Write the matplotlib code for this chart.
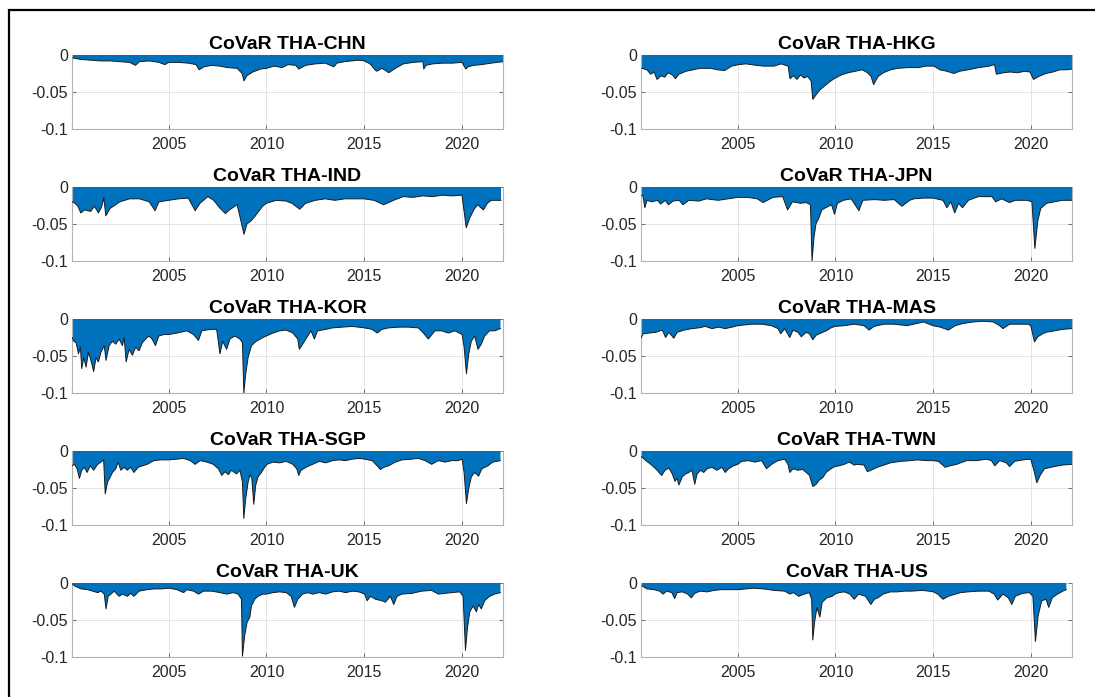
import matplotlib
matplotlib.use('Agg')
import matplotlib.pyplot as plt
from matplotlib.patches import Rectangle

plt.rcParams['font.family'] = ['Liberation Sans', 'DejaVu Sans']
plt.rcParams['axes.unicode_minus'] = False

# CoVaR series, (year, value)
chn = [(2000.1, -0.004), (2000.5, -0.006), (2001.0, -0.007), (2001.5, -0.008), (2002.0, -0.008),
       (2002.5, -0.009), (2003.0, -0.010), (2003.3, -0.014), (2003.5, -0.009), (2004.0, -0.008),
       (2004.5, -0.010), (2004.8, -0.013), (2005.0, -0.010), (2005.5, -0.010), (2006.0, -0.011),
       (2006.4, -0.013), (2006.55, -0.020), (2006.8, -0.016), (2007.2, -0.014), (2007.6, -0.015),
       (2008.0, -0.017), (2008.5, -0.018), (2008.75, -0.025), (2008.85, -0.035), (2009.0, -0.028),
       (2009.3, -0.023), (2009.7, -0.019), (2010.0, -0.018), (2010.4, -0.015), (2010.8, -0.017),
       (2011.1, -0.013), (2011.5, -0.014), (2011.65, -0.019), (2012.0, -0.014), (2012.5, -0.012),
       (2013.0, -0.011), (2013.45, -0.016), (2013.6, -0.011), (2014.0, -0.009), (2014.7, -0.007),
       (2015.0, -0.008), (2015.3, -0.012), (2015.55, -0.020), (2015.65, -0.022), (2015.9, -0.018),
       (2016.1, -0.021), (2016.25, -0.024), (2016.6, -0.018), (2017.0, -0.012), (2017.5, -0.010),
       (2018.0, -0.009), (2018.05, -0.019), (2018.15, -0.014), (2018.5, -0.012), (2019.0, -0.011),
       (2019.5, -0.011), (2020.0, -0.010), (2020.2, -0.019), (2020.3, -0.016), (2020.6, -0.014),
       (2021.0, -0.013), (2021.5, -0.011), (2022.1, -0.009)]

hkg = [(2000.09, -0.018), (2000.36, -0.020), (2000.54, -0.026), (2000.72, -0.023), (2000.87, -0.033),
       (2001.08, -0.028), (2001.26, -0.030), (2001.44, -0.024), (2001.66, -0.027), (2001.81, -0.032),
       (2001.99, -0.026), (2002.35, -0.022), (2002.71, -0.020), (2003.07, -0.018), (2003.61, -0.018),
       (2003.97, -0.020), (2004.33, -0.021), (2004.69, -0.015), (2005.05, -0.013), (2005.42, -0.012),
       (2005.96, -0.014), (2006.32, -0.015), (2006.86, -0.015), (2007.22, -0.012), (2007.58, -0.015),
       (2007.67, -0.032), (2007.85, -0.028), (2008.03, -0.033), (2008.21, -0.027), (2008.39, -0.031),
       (2008.57, -0.029), (2008.75, -0.035), (2008.84, -0.060), (2009.03, -0.053), (2009.21, -0.047),
       (2009.39, -0.043), (2009.66, -0.037), (2009.93, -0.032), (2010.29, -0.027), (2010.65, -0.024),
       (2011.01, -0.022), (2011.37, -0.020), (2011.64, -0.024), (2011.82, -0.029), (2011.95, -0.040),
       (2012.18, -0.029), (2012.45, -0.024), (2012.82, -0.020), (2013.18, -0.018), (2013.72, -0.017),
       (2014.26, -0.017), (2014.62, -0.015), (2015.04, -0.015), (2015.34, -0.020), (2015.70, -0.022),
       (2016.06, -0.025), (2016.34, -0.022), (2016.79, -0.020), (2017.33, -0.017), (2017.87, -0.015),
       (2018.14, -0.013), (2018.23, -0.026), (2018.59, -0.024), (2018.95, -0.023), (2019.31, -0.024),
       (2019.68, -0.022), (2019.95, -0.023), (2020.13, -0.033), (2020.40, -0.029), (2020.76, -0.025),
       (2021.12, -0.023), (2021.48, -0.020), (2021.84, -0.020), (2022.11, -0.019)]

ind = [(2000.06, -0.020), (2000.2, -0.022), (2000.35, -0.026), (2000.5, -0.035), (2000.7, -0.031),
       (2001.0, -0.033), (2001.2, -0.026), (2001.4, -0.035), (2001.55, -0.028), (2001.68, -0.015),
       (2001.78, -0.039), (2002.0, -0.029), (2002.5, -0.020), (2003.0, -0.016), (2003.5, -0.016),
       (2004.0, -0.020), (2004.3, -0.032), (2004.5, -0.020), (2005.0, -0.018), (2005.5, -0.016),
       (2006.0, -0.015), (2006.35, -0.032), (2006.6, -0.022), (2007.0, -0.013), (2007.3, -0.018),
       (2007.6, -0.028), (2007.9, -0.036), (2008.1, -0.031), (2008.5, -0.024), (2008.85, -0.064),
       (2009.0, -0.050), (2009.2, -0.046), (2009.4, -0.040), (2009.6, -0.033), (2009.8, -0.026),
       (2010.0, -0.022), (2010.5, -0.018), (2011.0, -0.019), (2011.3, -0.022), (2011.7, -0.030),
       (2012.0, -0.022), (2012.5, -0.018), (2013.0, -0.016), (2013.5, -0.018), (2014.0, -0.016),
       (2014.5, -0.016), (2015.0, -0.016), (2015.5, -0.018), (2016.0, -0.024), (2016.5, -0.018),
       (2017.0, -0.013), (2017.5, -0.014), (2018.0, -0.012), (2018.5, -0.013), (2019.0, -0.011),
       (2019.5, -0.012), (2020.0, -0.011), (2020.22, -0.055), (2020.4, -0.042), (2020.6, -0.031),
       (2020.8, -0.024), (2021.1, -0.031), (2021.3, -0.022), (2021.5, -0.018), (2022.0, -0.018)]

jpn = [(2000.04, -0.011), (2000.15, -0.012), (2000.25, -0.028), (2000.35, -0.018), (2000.6, -0.020),
       (2000.9, -0.018), (2001.05, -0.023), (2001.3, -0.018), (2001.45, -0.024), (2001.7, -0.019),
       (2002.0, -0.018), (2002.2, -0.024), (2002.5, -0.018), (2003.0, -0.019), (2003.4, -0.016),
       (2004.0, -0.018), (2004.5, -0.016), (2005.0, -0.014), (2005.5, -0.014), (2006.0, -0.016),
       (2006.3, -0.021), (2006.8, -0.014), (2007.3, -0.013), (2007.55, -0.031), (2007.8, -0.020),
       (2008.2, -0.022), (2008.5, -0.021), (2008.72, -0.024), (2008.8, -0.100), (2008.9, -0.068),
       (2009.0, -0.050), (2009.15, -0.042), (2009.3, -0.031), (2009.5, -0.028), (2009.8, -0.024),
       (2009.95, -0.037), (2010.1, -0.022), (2010.4, -0.018), (2010.8, -0.016), (2011.2, -0.032),
       (2011.4, -0.018), (2012.0, -0.017), (2012.5, -0.018), (2013.0, -0.017), (2013.4, -0.026),
       (2013.8, -0.018), (2014.0, -0.016), (2014.5, -0.015), (2015.0, -0.015), (2015.5, -0.018),
       (2015.7, -0.028), (2015.9, -0.020), (2016.1, -0.035), (2016.3, -0.022), (2016.5, -0.028),
       (2016.8, -0.018), (2017.3, -0.013), (2018.0, -0.013), (2018.2, -0.020), (2018.5, -0.016),
       (2018.9, -0.021), (2019.2, -0.018), (2019.8, -0.018), (2020.05, -0.020), (2020.2, -0.083),
       (2020.35, -0.046), (2020.5, -0.029), (2020.8, -0.022), (2021.2, -0.020), (2021.6, -0.018),
       (2022.1, -0.018)]

kor = [(2000.06, -0.025), (2000.14, -0.030), (2000.26, -0.032), (2000.38, -0.047), (2000.48, -0.038),
       (2000.55, -0.067), (2000.65, -0.052), (2000.77, -0.065), (2000.89, -0.045), (2001.02, -0.056),
       (2001.16, -0.071), (2001.28, -0.052), (2001.40, -0.058), (2001.53, -0.045), (2001.70, -0.036),
       (2001.79, -0.056), (2001.95, -0.036), (2002.12, -0.030), (2002.29, -0.034), (2002.46, -0.027),
       (2002.63, -0.036), (2002.72, -0.025), (2002.82, -0.058), (2002.97, -0.041), (2003.14, -0.049),
       (2003.31, -0.038), (2003.48, -0.043), (2003.65, -0.032), (2003.82, -0.027), (2003.98, -0.023),
       (2004.15, -0.027), (2004.32, -0.036), (2004.49, -0.023), (2004.75, -0.021), (2005.0, -0.021),
       (2005.42, -0.019), (2005.93, -0.016), (2006.27, -0.021), (2006.52, -0.029), (2006.69, -0.016),
       (2007.12, -0.014), (2007.45, -0.014), (2007.62, -0.047), (2007.76, -0.030), (2007.96, -0.041),
       (2008.13, -0.027), (2008.38, -0.023), (2008.64, -0.027), (2008.77, -0.032), (2008.84, -0.100),
       (2008.94, -0.074), (2009.06, -0.052), (2009.23, -0.036), (2009.48, -0.030), (2009.82, -0.025),
       (2009.99, -0.023), (2010.33, -0.019), (2010.67, -0.016), (2011.01, -0.015), (2011.35, -0.019),
       (2011.60, -0.027), (2011.68, -0.041), (2011.85, -0.034), (2012.11, -0.023), (2012.28, -0.016),
       (2012.45, -0.027), (2012.61, -0.016), (2013.04, -0.014), (2013.38, -0.012), (2013.88, -0.011),
       (2014.39, -0.010), (2015.02, -0.012), (2015.41, -0.014), (2015.66, -0.019), (2015.91, -0.014),
       (2016.25, -0.012), (2016.76, -0.011), (2017.27, -0.011), (2017.77, -0.012), (2018.03, -0.019),
       (2018.28, -0.027), (2018.62, -0.016), (2018.96, -0.016), (2019.30, -0.019), (2019.64, -0.016),
       (2020.01, -0.021), (2020.11, -0.038), (2020.23, -0.074), (2020.35, -0.047), (2020.48, -0.030),
       (2020.65, -0.023), (2020.82, -0.041), (2020.99, -0.034), (2021.16, -0.023), (2021.41, -0.016),
       (2021.67, -0.016), (2021.97, -0.013)]

mas = [(2000.04, -0.026), (2000.16, -0.020), (2000.47, -0.019), (2000.80, -0.018), (2001.14, -0.015),
       (2001.31, -0.025), (2001.48, -0.018), (2001.73, -0.026), (2001.90, -0.018), (2002.24, -0.015),
       (2002.66, -0.013), (2003.00, -0.012), (2003.34, -0.010), (2003.68, -0.013), (2004.02, -0.011),
       (2004.36, -0.013), (2004.70, -0.011), (2005.0, -0.009), (2005.71, -0.007), (2006.22, -0.007),
       (2006.73, -0.009), (2007.06, -0.013), (2007.20, -0.020), (2007.40, -0.013), (2007.66, -0.025),
       (2007.83, -0.015), (2008.08, -0.018), (2008.25, -0.024), (2008.50, -0.018), (2008.67, -0.020),
       (2008.84, -0.028), (2009.01, -0.022), (2009.26, -0.019), (2009.52, -0.016), (2009.77, -0.012),
       (2009.97, -0.010), (2010.45, -0.009), (2010.96, -0.007), (2011.46, -0.009), (2011.72, -0.015),
       (2011.97, -0.010), (2012.48, -0.007), (2012.99, -0.007), (2013.66, -0.009), (2014.00, -0.007),
       (2014.51, -0.004), (2014.98, -0.009), (2015.36, -0.011), (2015.78, -0.015), (2016.12, -0.009),
       (2016.54, -0.006), (2017.05, -0.004), (2017.56, -0.003), (2018.06, -0.004), (2018.40, -0.009),
       (2018.57, -0.013), (2018.91, -0.007), (2019.42, -0.007), (2019.84, -0.007), (2019.99, -0.009),
       (2020.18, -0.031), (2020.35, -0.024), (2020.60, -0.020), (2020.77, -0.018), (2021.2, -0.016),
       (2021.6, -0.014), (2022.1, -0.013)]

sgp = [(2000.06, -0.020), (2000.18, -0.018), (2000.31, -0.024), (2000.43, -0.037), (2000.55, -0.026),
       (2000.69, -0.022), (2000.82, -0.029), (2000.99, -0.020), (2001.16, -0.026), (2001.36, -0.018),
       (2001.53, -0.015), (2001.67, -0.012), (2001.75, -0.058), (2001.87, -0.042), (2002.01, -0.035),
       (2002.12, -0.029), (2002.29, -0.024), (2002.41, -0.015), (2002.55, -0.026), (2002.72, -0.022),
       (2002.88, -0.026), (2003.05, -0.022), (2003.22, -0.029), (2003.43, -0.022), (2003.65, -0.020),
       (2003.90, -0.018), (2004.24, -0.013), (2004.58, -0.012), (2005.0, -0.012), (2005.42, -0.011),
       (2005.76, -0.010), (2006.10, -0.013), (2006.35, -0.018), (2006.61, -0.013), (2006.95, -0.015),
       (2007.28, -0.018), (2007.54, -0.024), (2007.71, -0.033), (2007.88, -0.028), (2008.05, -0.032),
       (2008.21, -0.026), (2008.47, -0.031), (2008.64, -0.026), (2008.77, -0.042), (2008.84, -0.091),
       (2008.94, -0.064), (2009.06, -0.042), (2009.15, -0.032), (2009.25, -0.037), (2009.35, -0.072),
       (2009.45, -0.046), (2009.57, -0.035), (2009.74, -0.029), (2009.91, -0.022), (2010.03, -0.018),
       (2010.33, -0.015), (2010.67, -0.016), (2011.01, -0.014), (2011.35, -0.018), (2011.55, -0.024),
       (2011.65, -0.033), (2011.77, -0.026), (2012.02, -0.022), (2012.36, -0.018), (2012.70, -0.014),
       (2013.04, -0.016), (2013.38, -0.013), (2013.71, -0.012), (2014.05, -0.013), (2014.39, -0.011),
       (2014.73, -0.010), (2015.02, -0.011), (2015.41, -0.013), (2015.66, -0.020), (2015.83, -0.025),
       (2016.00, -0.022), (2016.25, -0.020), (2016.59, -0.015), (2016.93, -0.012), (2017.44, -0.011),
       (2017.77, -0.010), (2018.11, -0.013), (2018.45, -0.018), (2018.79, -0.013), (2019.13, -0.015),
       (2019.47, -0.013), (2019.81, -0.013), (2020.01, -0.011), (2020.11, -0.029), (2020.23, -0.071),
       (2020.35, -0.050), (2020.48, -0.035), (2020.65, -0.029), (2020.85, -0.034), (2021.02, -0.024),
       (2021.33, -0.020), (2021.58, -0.015), (2021.97, -0.013)]

twn = [(2000.04, -0.007), (2000.30, -0.013), (2000.55, -0.018), (2000.80, -0.024), (2000.97, -0.029),
       (2001.11, -0.033), (2001.28, -0.026), (2001.48, -0.023), (2001.65, -0.031), (2001.79, -0.041),
       (2001.90, -0.037), (2001.99, -0.046), (2002.16, -0.035), (2002.33, -0.031), (2002.50, -0.029),
       (2002.66, -0.026), (2002.80, -0.045), (2002.92, -0.031), (2003.09, -0.026), (2003.26, -0.029),
       (2003.43, -0.024), (2003.68, -0.022), (2003.93, -0.026), (2004.19, -0.022), (2004.36, -0.029),
       (2004.53, -0.024), (2004.78, -0.020), (2005.0, -0.018), (2005.20, -0.014), (2005.54, -0.013),
       (2005.88, -0.015), (2006.22, -0.013), (2006.47, -0.024), (2006.73, -0.018), (2007.06, -0.013),
       (2007.40, -0.011), (2007.57, -0.018), (2007.66, -0.029), (2007.83, -0.024), (2008.08, -0.026),
       (2008.33, -0.025), (2008.50, -0.029), (2008.67, -0.033), (2008.84, -0.048), (2009.01, -0.045),
       (2009.18, -0.039), (2009.35, -0.036), (2009.52, -0.029), (2009.77, -0.024), (2009.97, -0.021),
       (2010.19, -0.020), (2010.45, -0.018), (2010.70, -0.015), (2010.96, -0.019), (2011.13, -0.018),
       (2011.46, -0.019), (2011.63, -0.028), (2011.89, -0.025), (2012.14, -0.022), (2012.48, -0.019),
       (2012.82, -0.016), (2013.32, -0.014), (2013.83, -0.013), (2014.17, -0.012), (2014.68, -0.013),
       (2014.98, -0.013), (2015.27, -0.014), (2015.61, -0.022), (2015.86, -0.020), (2016.20, -0.018),
       (2016.71, -0.013), (2017.22, -0.013), (2017.72, -0.011), (2017.98, -0.013), (2018.15, -0.020),
       (2018.40, -0.013), (2018.74, -0.016), (2018.91, -0.021), (2019.16, -0.014), (2019.59, -0.012),
       (2019.99, -0.011), (2020.18, -0.029), (2020.30, -0.043), (2020.47, -0.033), (2020.69, -0.024),
       (2021.2, -0.021), (2021.6, -0.019), (2022.1, -0.018)]

uk = [(2000.06, -0.001), (2000.18, -0.004), (2000.52, -0.008), (2000.85, -0.009), (2001.11, -0.011),
      (2001.36, -0.013), (2001.53, -0.011), (2001.70, -0.015), (2001.79, -0.035), (2001.90, -0.018),
      (2002.04, -0.015), (2002.21, -0.011), (2002.46, -0.018), (2002.63, -0.015), (2002.88, -0.018),
      (2003.05, -0.014), (2003.22, -0.018), (2003.48, -0.011), (2003.90, -0.009), (2004.24, -0.008),
      (2004.58, -0.008), (2005.0, -0.007), (2005.42, -0.009), (2005.76, -0.013), (2005.93, -0.009),
      (2006.27, -0.011), (2006.52, -0.015), (2006.78, -0.011), (2007.20, -0.011), (2007.62, -0.013),
      (2007.96, -0.015), (2008.30, -0.013), (2008.55, -0.015), (2008.72, -0.022), (2008.77, -0.099),
      (2008.89, -0.070), (2009.01, -0.053), (2009.15, -0.046), (2009.23, -0.031), (2009.40, -0.022),
      (2009.57, -0.018), (2009.82, -0.015), (2009.99, -0.015), (2010.33, -0.013), (2010.67, -0.012),
      (2011.01, -0.013), (2011.26, -0.018), (2011.43, -0.033), (2011.60, -0.022), (2011.85, -0.015),
      (2012.11, -0.013), (2012.36, -0.015), (2012.70, -0.013), (2013.04, -0.015), (2013.38, -0.012),
      (2013.71, -0.011), (2014.05, -0.013), (2014.39, -0.011), (2014.73, -0.012), (2015.02, -0.015),
      (2015.15, -0.024), (2015.32, -0.018), (2015.58, -0.022), (2015.91, -0.024), (2016.08, -0.026),
      (2016.34, -0.018), (2016.51, -0.029), (2016.68, -0.018), (2016.93, -0.015), (2017.44, -0.014),
      (2017.94, -0.011), (2018.45, -0.010), (2018.79, -0.015), (2019.13, -0.014), (2019.47, -0.013),
      (2019.89, -0.012), (2020.06, -0.018), (2020.18, -0.091), (2020.28, -0.061), (2020.40, -0.039),
      (2020.57, -0.031), (2020.74, -0.039), (2020.85, -0.029), (2020.99, -0.035), (2021.16, -0.024),
      (2021.41, -0.018), (2021.67, -0.015), (2021.97, -0.013)]

us = [(2000.10, -0.004), (2000.37, -0.008), (2000.73, -0.009), (2001.00, -0.011), (2001.18, -0.015),
      (2001.36, -0.011), (2001.63, -0.013), (2001.77, -0.021), (2001.90, -0.013), (2002.17, -0.012),
      (2002.44, -0.015), (2002.62, -0.020), (2002.80, -0.014), (2003.07, -0.011), (2003.43, -0.012),
      (2003.79, -0.010), (2004.15, -0.009), (2004.51, -0.009), (2005.0, -0.009), (2005.41, -0.008),
      (2005.77, -0.007), (2006.32, -0.008), (2006.86, -0.010), (2007.40, -0.011), (2007.67, -0.015),
      (2007.85, -0.013), (2008.12, -0.018), (2008.39, -0.015), (2008.66, -0.013), (2008.78, -0.022),
      (2008.84, -0.077), (2008.93, -0.053), (2009.05, -0.033), (2009.20, -0.046), (2009.32, -0.026),
      (2009.56, -0.020), (2009.83, -0.018), (2009.97, -0.015), (2010.19, -0.013), (2010.46, -0.012),
      (2010.73, -0.015), (2010.96, -0.022), (2011.18, -0.015), (2011.54, -0.018), (2011.81, -0.029),
      (2011.99, -0.022), (2012.17, -0.020), (2012.44, -0.015), (2012.80, -0.012), (2013.16, -0.012),
      (2013.52, -0.011), (2013.88, -0.011), (2014.42, -0.010), (2014.78, -0.011), (2015.02, -0.012),
      (2015.23, -0.015), (2015.50, -0.022), (2015.77, -0.018), (2016.14, -0.015), (2016.41, -0.013),
      (2016.77, -0.012), (2017.31, -0.011), (2017.85, -0.011), (2018.12, -0.015), (2018.30, -0.023),
      (2018.57, -0.015), (2018.84, -0.020), (2019.02, -0.029), (2019.20, -0.018), (2019.56, -0.014),
      (2019.92, -0.013), (2020.10, -0.018), (2020.23, -0.079), (2020.37, -0.044), (2020.55, -0.024),
      (2020.77, -0.022), (2020.91, -0.033), (2021.09, -0.020), (2021.36, -0.015), (2021.63, -0.011),
      (2021.81, -0.009)]

# панели по порядку: слева направо, сверху вниз
titles = ['CoVaR THA-CHN', 'CoVaR THA-HKG', 'CoVaR THA-IND', 'CoVaR THA-JPN', 'CoVaR THA-KOR',
          'CoVaR THA-MAS', 'CoVaR THA-SGP', 'CoVaR THA-TWN', 'CoVaR THA-UK', 'CoVaR THA-US']
series = [chn, hkg, ind, jpn, kor, mas, sgp, twn, uk, us]

yticks = [-0.1, -0.05, 0]
ytick_labels = ['-0.1', '-0.05', '0']
xticks = [2005, 2010, 2015, 2020]


def draw_panel(ax, data, title):
    t = [p[0] for p in data]
    v = [p[1] for p in data]
    ax.fill_between(t, v, 0, facecolor='#0072BD', edgecolor='none', zorder=2)
    ax.plot(t, v, color='#1a1a1a', lw=0.7, zorder=3)
    ax.set_xlim(2000.05, 2022.1)
    ax.set_ylim(-0.1, 0)
    ax.set_xticks(xticks)
    ax.set_xticklabels([str(x) for x in xticks])
    ax.set_yticks(yticks)
    ax.set_yticklabels(ytick_labels)
    ax.grid(True, color='#e3e3e3', lw=0.7)
    ax.set_axisbelow(True)
    ax.spines['top'].set_visible(False)
    for s in ['left', 'right', 'bottom']:
        ax.spines[s].set_color('#b3b3b3')
        ax.spines[s].set_linewidth(0.8)
    # засечки со всех сторон, внутрь
    ax.tick_params(axis='both', direction='in', length=3, width=0.6, color='#595959',
                   top=True, right=True, labelsize=11.5, labelcolor='#262626')
    ax.tick_params(axis='x', pad=6)
    ax.tick_params(axis='y', pad=3)
    ax.set_title(title, fontsize=14, fontweight='bold', pad=4)


fig = plt.figure(figsize=(10.95, 6.97), dpi=100)
W, H = 1095, 697
col_left = [72, 641]
ax_w = 431
ax_h = 74
for i, (data, title) in enumerate(zip(series, titles)):
    row, col = divmod(i, 2)
    top = 55 + 132 * row
    ax = fig.add_axes([col_left[col] / W, 1 - (top + ax_h) / H, ax_w / W, ax_h / H])
    draw_panel(ax, data, title)

# рамка вокруг рисунка (только левая и верхняя стороны попадают в кадр)
fig.add_artist(Rectangle((8.5 / W, -0.05), 1.2, 1.05 - 9.5 / H, transform=fig.transFigure,
                         fill=False, edgecolor='black', lw=1.6))

fig.savefig('out.png', dpi=100)
plt.close(fig)
